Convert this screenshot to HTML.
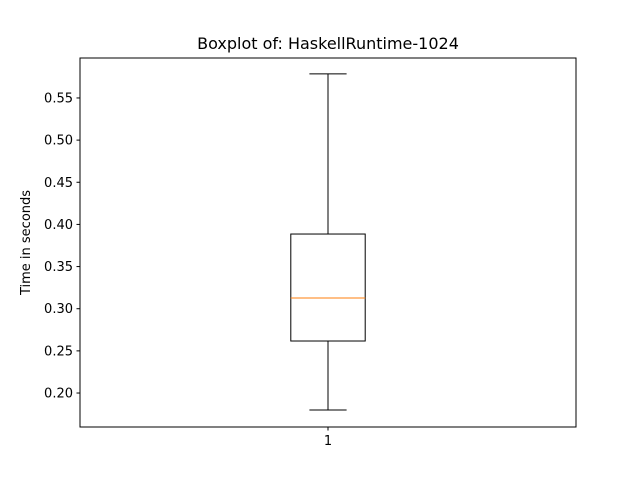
<!DOCTYPE html>
<html><head><meta charset="utf-8"><style>
body{margin:0;background:#fff;}
svg{display:block;font-family:"DejaVu Sans","Liberation Sans",sans-serif;}
</style></head><body>
<svg id="chart" width="640" height="480">
<rect width="640" height="480" fill="#fff"/>
<text x="328" y="49" text-anchor="middle" font-size="16">Boxplot of: HaskellRuntime-1024</text>
<text transform="translate(30,242.5) rotate(-90)" text-anchor="middle" font-size="13">Time in seconds</text>
<g id="marks"></g>
<rect x="80" y="58" width="496" height="369" fill="none" stroke="#000" stroke-width="1"/>
</svg>
<script>
const categories = ["1"];
const whiskerLow = [0.1798];
const q1 = [0.2617];
const median = [0.3127];
const q3 = [0.3886];
const whiskerHigh = [0.5785];
const yTicks = [0.20,0.25,0.30,0.35,0.40,0.45,0.50,0.55];
const yTickLabels = ["0.20","0.25","0.30","0.35","0.40","0.45","0.50","0.55"];

const L=80,R=576,T=58,B=427, yMin=0.1597, yMax=0.5974;
const y = v => B - (v - yMin)/(yMax - yMin)*(B - T);
const x = i => L + (i + 1 - 0.5)/1.0*(R - L);
const ns="http://www.w3.org/2000/svg";
const g=document.getElementById('marks');
function mk(tag,attrs){const e=document.createElementNS(ns,tag);for(const k in attrs)e.setAttribute(k,attrs[k]);g.appendChild(e);return e;}

yTicks.forEach((t,i)=>{
  const yy=y(t);
  const tk=mk('line',{x1:L-3.5,x2:L,y1:yy,y2:yy,stroke:'#000'});
  
  
  const lb=mk('text',{x:L-7,y:yy+4.5,'text-anchor':'end','font-size':'13'});
  lb.textContent=yTickLabels[i];
  
  
});
const bw=(R-L)*0.15, cw=bw/2;
categories.forEach((c,i)=>{
  const cx=x(i);
  const tk=mk('line',{x1:cx,x2:cx,y1:B,y2:B+3.5,stroke:'#000'});
  
  
  const lb=mk('text',{x:cx,y:B+18,'text-anchor':'middle','font-size':'13'});
  lb.textContent=c;
  
  
  const w1=mk('line',{x1:cx,x2:cx,y1:y(q3[i]),y2:y(whiskerHigh[i]),stroke:'#000'});
  
  
  const w2=mk('line',{x1:cx,x2:cx,y1:y(q1[i]),y2:y(whiskerLow[i]),stroke:'#000'});
  
  
  const c1=mk('line',{x1:cx-cw/2,x2:cx+cw/2,y1:y(whiskerHigh[i]),y2:y(whiskerHigh[i]),stroke:'#000'});
  
  
  const c2=mk('line',{x1:cx-cw/2,x2:cx+cw/2,y1:y(whiskerLow[i]),y2:y(whiskerLow[i]),stroke:'#000'});
  
  
  const bx=mk('rect',{x:cx-bw/2,y:y(q3[i]),width:bw,height:y(q1[i])-y(q3[i]),fill:'none',stroke:'#000'});
  
  
  const md=mk('line',{x1:cx-bw/2,x2:cx+bw/2,y1:y(median[i]),y2:y(median[i]),stroke:'#ff7f0e'});
  
  
});
</script>
</body></html>
